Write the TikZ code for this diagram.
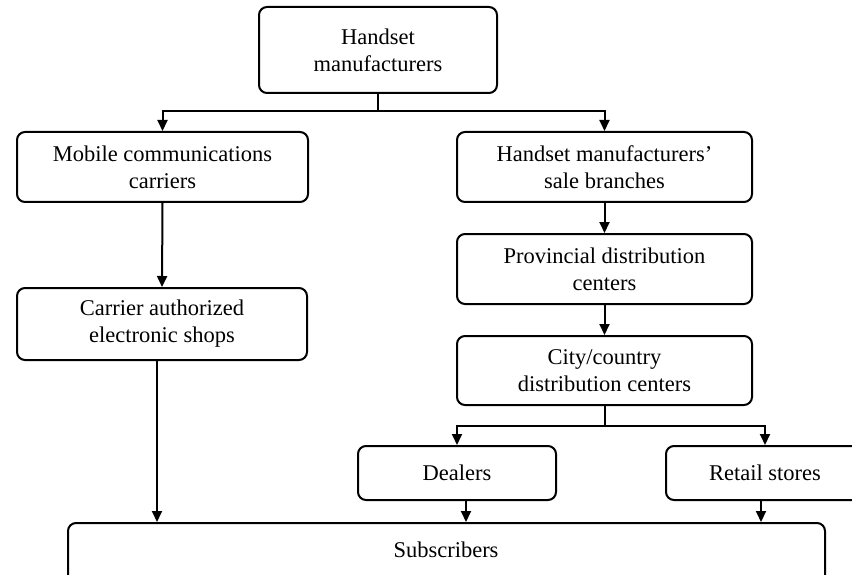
\documentclass[tikz,border=0pt]{standalone}
\usepackage{fontspec}
\setmainfont{Liberation Serif}
\usetikzlibrary{arrows.meta}
\begin{document}
\begin{tikzpicture}[x=1pt,y=-1pt,
  box/.style={draw, line width=2pt, rounded corners=8pt, align=center, inner sep=0pt,
    font=\fontsize{22.5}{27}\selectfont},
  lbl/.style={align=center, inner sep=0pt, font=\fontsize{22.5}{27}\selectfont},
  link/.style={line width=2pt},
  arr/.style={line width=2pt, -{Triangle[length=11pt,width=10pt]}}]
\useasboundingbox (0,0) rectangle (852,575);
\node[box, minimum width=238pt, minimum height=86pt] (hm) at (378,50) {Handset\\manufacturers};
\node[box, minimum width=291pt, minimum height=70pt] (mcc) at (162.5,167) {Mobile communications\\carriers};
\node[box, minimum width=295pt, minimum height=70pt] (hsb) at (604.5,167) {Handset manufacturers’\\sale branches};
\node[box, minimum width=290pt, minimum height=72pt] (cae) at (162,324) {Carrier authorized\\electronic shops};
\node[box, minimum width=295pt, minimum height=70pt] (pdc) at (604.5,269) {Provincial distribution\\centers};
\node[box, minimum width=295pt, minimum height=69pt] (cdc) at (604.5,370.5) {City/country\\distribution centers};
\node[box, minimum width=198pt, minimum height=54pt] (dealers) at (457,473) {Dealers};
\node[box, minimum width=198pt, minimum height=54pt] (retail) at (765,473) {Retail stores};
\node[box, minimum width=757pt, minimum height=90pt] (subs) at (446.5,568) {};
\node[lbl] (subslbl) at (446,550) {Subscribers};
% connectors
\coordinate (j1) at (hm.south |- 0,111);
\draw[link] (hm.south) -- (j1);
\draw[arr] (j1) -| (mcc.north);
\draw[arr] (j1) -| (hsb.north);
\draw[arr] (mcc.south) -- (cae.north);
\draw[arr] (hsb.south) -- (pdc.north);
\draw[arr] (pdc.south) -- (cdc.north);
\coordinate (j2) at (cdc.south |- 0,426);
\draw[link] (cdc.south) -- (j2);
\draw[arr] (j2) -| (dealers.north);
\draw[arr] (j2) -| (retail.north);
\draw[arr] ([xshift=-5pt]cae.south) -- ([xshift=-5pt]cae.south |- subs.north);
\draw[arr] ([xshift=9pt]dealers.south) -- ([xshift=9pt]dealers.south |- subs.north);
\draw[arr] ([xshift=-4pt]retail.south) -- ([xshift=-4pt]retail.south |- subs.north);
\end{tikzpicture}
\end{document}
